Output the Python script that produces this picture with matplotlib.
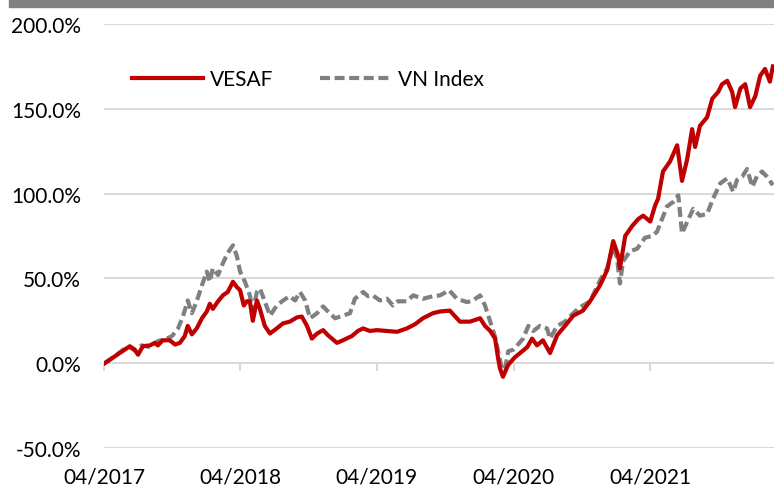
import pandas as pd
import matplotlib
matplotlib.use("Agg")
import matplotlib.pyplot as plt
import matplotlib.dates as mdates
from matplotlib.patches import Rectangle
from matplotlib.ticker import FuncFormatter

plt.rcParams['font.family'] = ['Lato', 'DejaVu Sans']

# VESAF cumulative return (%)
vesaf_dates = [
    '2017-04-03', '2017-05-13', '2017-06-09', '2017-06-22', '2017-07-01', '2017-07-14',
    '2017-08-02', '2017-08-15', '2017-08-23', '2017-09-05', '2017-09-24', '2017-10-08',
    '2017-10-21', '2017-11-03', '2017-11-11', '2017-11-22', '2017-12-05', '2017-12-19',
    '2018-01-01', '2018-01-09', '2018-01-17', '2018-01-31', '2018-02-13', '2018-02-26',
    '2018-03-12', '2018-03-22', '2018-03-31', '2018-04-10', '2018-04-18', '2018-04-26',
    '2018-05-04', '2018-05-15', '2018-05-23', '2018-06-05', '2018-06-19', '2018-07-07',
    '2018-07-24', '2018-08-11', '2018-08-30', '2018-09-12', '2018-09-26', '2018-10-09',
    '2018-10-23', '2018-11-08', '2018-11-21', '2018-12-15', '2018-12-31', '2019-01-24',
    '2019-02-09', '2019-02-23', '2019-03-13', '2019-04-01', '2019-04-28', '2019-05-25',
    '2019-06-20', '2019-07-12', '2019-08-02', '2019-08-29', '2019-09-17', '2019-10-13',
    '2019-11-09', '2019-12-06', '2020-01-02', '2020-01-15', '2020-01-29', '2020-02-11',
    '2020-02-19', '2020-02-24', '2020-03-03', '2020-03-17', '2020-04-04', '2020-04-18',
    '2020-05-07', '2020-05-20', '2020-06-02', '2020-06-18', '2020-07-07', '2020-07-26',
    '2020-08-16', '2020-09-07', '2020-10-03', '2020-10-22', '2020-11-18', '2020-12-07',
    '2020-12-23', '2021-01-05', '2021-01-10', '2021-01-24', '2021-02-12', '2021-02-28',
    '2021-03-13', '2021-04-01', '2021-04-14', '2021-04-22', '2021-05-05', '2021-05-24',
    '2021-06-12', '2021-06-25', '2021-07-09', '2021-07-22', '2021-07-30', '2021-08-12',
    '2021-08-31', '2021-09-14', '2021-09-30', '2021-10-10', '2021-10-24', '2021-11-06',
    '2021-11-14', '2021-11-28', '2021-12-11', '2021-12-24', '2022-01-07', '2022-01-20',
    '2022-02-02', '2022-02-15', '2022-02-23',
]
vesaf_values = [
    0, 6, 10, 8, 5, 10,
    10.5, 12, 10.5, 13.5, 13.5, 11,
    12, 16, 22, 17, 20.5, 26.5,
    30.5, 35, 32, 36.5, 40, 42,
    48, 45, 43, 34, 36.5, 36.5,
    25, 37, 32, 22, 17.5, 20.5,
    23.5, 24.5, 27, 27.5, 22, 14.5,
    17.5, 19.5, 16.5, 12, 13.5, 16,
    19, 20.5, 19, 19.5, 19, 18.5,
    20.5, 23, 26.5, 29.5, 30.5, 31,
    24.5, 24.5, 26.5, 22, 19, 14.5,
    3, -3, -8, -1, 3.5, 6,
    9.5, 14.5, 10.5, 13.5, 6, 16.5,
    22, 28, 31, 36.5, 46, 55,
    72, 63.5, 56, 75, 81, 85,
    87, 83.5, 93, 97, 113, 119,
    128.5, 107.5, 120.5, 138, 127.5, 140,
    145, 156, 160, 164.5, 166.5, 160,
    151, 162, 164.5, 151, 157.5, 169.5,
    173.5, 166, 175,
]

# VN Index cumulative return (%)
vni_dates = [
    '2017-04-03', '2017-05-05', '2017-06-04', '2017-06-22', '2017-07-11', '2017-08-02',
    '2017-08-23', '2017-09-16', '2017-09-30', '2017-10-16', '2017-10-29', '2017-11-11',
    '2017-11-22', '2017-12-05', '2017-12-19', '2018-01-01', '2018-01-09', '2018-01-17',
    '2018-01-31', '2018-02-13', '2018-02-26', '2018-03-12', '2018-03-22', '2018-03-31',
    '2018-04-13', '2018-04-26', '2018-05-04', '2018-05-15', '2018-05-23', '2018-06-05',
    '2018-06-19', '2018-07-07', '2018-07-24', '2018-08-11', '2018-08-25', '2018-09-07',
    '2018-09-21', '2018-10-04', '2018-10-23', '2018-11-08', '2018-11-21', '2018-12-10',
    '2018-12-31', '2019-01-19', '2019-02-01', '2019-02-23', '2019-03-08', '2019-03-21',
    '2019-04-09', '2019-04-28', '2019-05-14', '2019-05-27', '2019-06-20', '2019-07-07',
    '2019-08-02', '2019-08-29', '2019-09-17', '2019-10-11', '2019-11-01', '2019-11-28',
    '2019-12-14', '2020-01-02', '2020-01-15', '2020-01-29', '2020-02-11', '2020-02-19',
    '2020-03-01', '2020-03-09', '2020-03-17', '2020-03-31', '2020-04-12', '2020-04-26',
    '2020-05-10', '2020-05-23', '2020-06-10', '2020-06-29', '2020-07-07', '2020-07-26',
    '2020-08-16', '2020-09-07', '2020-09-25', '2020-10-22', '2020-11-18', '2020-12-07',
    '2020-12-23', '2021-01-02', '2021-01-10', '2021-01-18', '2021-02-06', '2021-02-25',
    '2021-03-18', '2021-04-06', '2021-04-19', '2021-05-16', '2021-06-01', '2021-06-15',
    '2021-06-25', '2021-07-09', '2021-07-25', '2021-08-12', '2021-08-31', '2021-09-16',
    '2021-10-05', '2021-10-24', '2021-11-09', '2021-11-19', '2021-12-03', '2021-12-16',
    '2021-12-30', '2022-01-12', '2022-01-25', '2022-02-07', '2022-02-23',
]
vni_values = [
    0, 5, 10, 7.5, 10.5, 9.5,
    13, 14.5, 16, 20.5, 27.5, 37,
    29.5, 36.5, 46, 54, 48, 56,
    52, 59, 65, 69.5, 63.5, 54,
    48, 40, 31, 42, 44, 36.5,
    28, 34, 37, 39.5, 37, 42,
    37, 26.5, 29.5, 33.5, 30.5, 26.5,
    28, 29.5, 38, 42, 39.5, 40,
    37, 38, 34, 36.5, 36.5, 40,
    38, 39.5, 40, 43, 38, 36,
    37, 40, 34, 24.5, 15.5, 7,
    -4, -3, 7, 8, 11, 14.5,
    22, 19, 22, 20.5, 14.5, 22,
    24.5, 29.5, 33, 36.5, 49, 56,
    69, 62, 47, 60, 66, 67.5,
    74, 75, 77.5, 92.5, 95, 99,
    76.5, 83.5, 91, 87, 88, 97,
    106, 109, 101, 108, 110, 114.5,
    104, 110.5, 113, 110, 105,
]

tick_dates = ['2017-04-01', '2018-04-01', '2019-04-01', '2020-04-01', '2021-04-01']
y_ticks = [-50, 0, 50, 100, 150, 200]

red = '#C00000'
grey = '#808080'
grid_col = '#D9D9D9'

fig = plt.figure(figsize=(7.74, 4.89), dpi=100)
ax = fig.add_axes([104 / 774, 1 - 449 / 489, 670 / 774, 424 / 489])

# grey band at the very top
fig.patches.append(Rectangle((9 / 774, 1 - 7.5 / 489), 1, 7.5 / 489,
                             transform=fig.transFigure, color=grey, zorder=0))

ax.plot(pd.to_datetime(vesaf_dates), vesaf_values, color=red, lw=3.0,
        label='VESAF', zorder=3, solid_joinstyle='round')
ax.plot(pd.to_datetime(vni_dates), vni_values, color=grey, lw=3.0,
        dashes=(2.4, 1.1), label='VN Index', zorder=2)

ax.set_ylim(-50, 200)
ax.set_xlim(pd.Timestamp('2017-04-01'), pd.Timestamp('2022-02-26'))
ax.set_yticks(y_ticks)
ax.yaxis.set_major_formatter(FuncFormatter(lambda v, p: f'{v:.1f}%'))
ax.set_xticks(pd.to_datetime(tick_dates))
ax.xaxis.set_major_formatter(mdates.DateFormatter('%m/%Y'))

ax.grid(axis='y', color=grid_col, lw=1.4, zorder=0)
for s in ax.spines.values():
    s.set_visible(False)
ax.tick_params(axis='y', length=0, pad=16.5, labelsize=15, labelcolor='black')
ax.tick_params(axis='x', length=0, pad=13, labelsize=15, labelcolor='black')

# axis line with tick marks crossing at 0%
zero_ax = ax.secondary_xaxis(0.2)
zero_ax.set_xticks(pd.to_datetime(tick_dates))
zero_ax.tick_params(axis='x', length=6, width=1.4, color=grid_col, labelbottom=False)
zero_ax.spines['bottom'].set_color(grid_col)
zero_ax.spines['bottom'].set_linewidth(1.4)
zero_ax.xaxis.set_major_formatter(FuncFormatter(lambda v, p: ''))

leg = ax.legend(loc='center left', bbox_to_anchor=(132 / 774, 1 - 80 / 489),
                bbox_transform=fig.transFigure, ncol=2, frameon=False,
                fontsize=15, handlelength=3.4, handletextpad=0.35,
                columnspacing=2.25, borderpad=0, borderaxespad=0)

fig.savefig('out.png', dpi=100)
